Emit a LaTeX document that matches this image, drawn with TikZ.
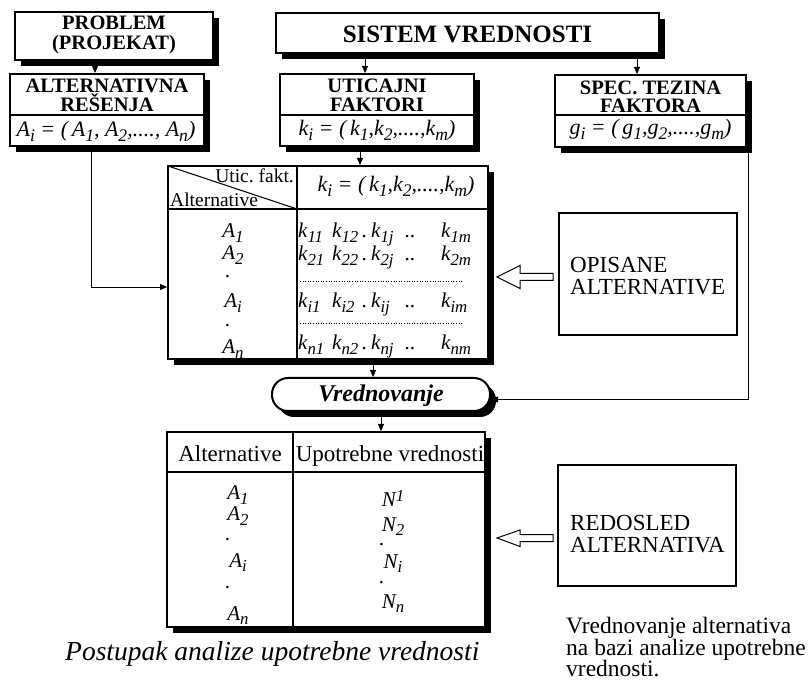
\documentclass[tikz,border=0pt]{standalone}
\usepackage{fontspec}
\setmainfont{Liberation Serif}
\usetikzlibrary{arrows.meta,shadows}
\frenchspacing

% lowered and raised small indices for italic formulas
\newcommand\lo[1]{\raisebox{-0.45ex}{\scalebox{0.8}{#1}}}
\newcommand\hi[1]{\raisebox{0.6ex}{\scalebox{0.8}{#1}}}
% one row of the factor matrix
\newcommand\krow[4]{\makebox[34pt][l]{#1}\makebox[30pt][l]{#2}\makebox[9pt][l]{.}\makebox[34pt][l]{#3}\makebox[36pt][l]{..}#4}

\begin{document}
\begin{tikzpicture}[x=1pt,y=-1pt,
  box/.style={draw, line width=2pt, fill=white, inner sep=0pt,
    drop shadow={shadow xshift=6pt,shadow yshift=-6pt,fill=black,opacity=1}},
  plainbox/.style={draw, line width=1.6pt, inner sep=0pt},
  conn/.style={line width=0.8pt, -{Triangle[length=7pt,width=6pt]}},
  rule/.style={line width=1.5pt},
  hd/.style={font=\fontsize{20.5}{20}\selectfont\bfseries, inner sep=0pt, anchor=base},
  fm/.style={font=\fontsize{22}{22}\selectfont\itshape, inner sep=0pt, anchor=base},
  cell/.style={font=\fontsize{19.5}{19}\selectfont, inner sep=0pt},
  bcell/.style={font=\fontsize{23}{23}\selectfont, inner sep=0pt, anchor=base},
  ent/.style={font=\fontsize{21}{21}\selectfont\itshape, inner sep=0pt, anchor=base},
  lbl/.style={font=\fontsize{23}{23}\selectfont, inner sep=0pt, anchor=base west},
  captext/.style={font=\fontsize{23.5}{23}\selectfont, inner sep=0pt, anchor=base west},
  dots/.style={line width=1pt, dash pattern=on 1pt off 1.6pt},
  hollow/.style={line width=1pt, fill=white}
]
\useasboundingbox (0,0) rectangle (809,684);

% ---------- top row ----------
\node[box, minimum width=198pt, minimum height=48pt] (prob) at (114,36) {};
\node[hd] (probA) at (114,30) {PROBLEM};
\node[hd] (probB) at (114,50) {(PROJEKAT)};

\node[box, minimum width=383pt, minimum height=40pt] (sys) at (467.5,33) {};
\node[font=\fontsize{25}{25}\selectfont\bfseries, inner sep=0pt, anchor=base] (sysT) at (467.5,43) {SISTEM VREDNOSTI};

% ---------- second row ----------
\node[box, minimum width=194pt, minimum height=72pt] (alt) at (107,110) {};
\draw[rule] (10,115) -- (204,115);
\node[hd] (altA) at (107,93) {ALTERNATIVNA};
\node[hd] (altB) at (107,112) {REŠENJA};
\node[fm] (altF) at (106,137) {A\lo{i} = (\,A\lo{1}, A\lo{2},...., A\lo{n})};

\node[box, minimum width=194pt, minimum height=72pt] (utic) at (377,110) {};
\draw[rule] (280,115) -- (474,115);
\node[hd] (uticA) at (377,93) {UTICAJNI};
\node[hd] (uticB) at (377,112) {FAKTORI};
\node[fm] (uticF) at (377,136) {k\lo{i} = (\,k\lo{1},k\lo{2},....,k\lo{m})};

\node[box, minimum width=191pt, minimum height=72pt] (spec) at (650.5,111) {};
\draw[rule] (555,115) -- (746,115);
\node[hd] (specA) at (650.5,95) {SPEC. TEZINA};
\node[hd] (specB) at (650.5,113) {FAKTORA};
\node[fm] (specF) at (650.5,135) {g\lo{i} = (\,g\lo{1},g\lo{2},....,g\lo{m})};

% ---------- matrix of described alternatives ----------
\node[box, minimum width=320pt, minimum height=193pt] (tab) at (328,262.5) {};
\draw[rule] (297,166) -- (297,359);
\draw[rule] (168,209) -- (488,209);
\draw[line width=1pt] (168,166) -- (297,209);
\node[cell, anchor=base east] (hdU) at (294,183) {Utic. fakt.};
\node[cell, anchor=base west] (hdA) at (170,207) {Alternative};
\node[fm] (hdK) at (396,192) {k\lo{i} = (\,k\lo{1},k\lo{2},....,k\lo{m})};

\node[ent] (ta1) at (233,238) {A\lo{1}};
\node[ent] (ta2) at (233,260) {A\lo{2}};
\node[ent] (tad1) at (228,278) {.};
\node[ent] (tai) at (233,308) {A\lo{i}};
\node[ent] (tad2) at (228,327) {.};
\node[ent] (tan) at (233,354) {A\lo{n}};

\node[ent, anchor=base west] (k1) at (298,238) {\krow{k\lo{11}}{k\lo{12}}{k\lo{1j}}{k\lo{1m}}};
\node[ent, anchor=base west] (k2) at (298,261) {\krow{k\lo{21}}{k\lo{22}}{k\lo{2j}}{k\lo{2m}}};
\draw[dots] (300,282) -- (462,282);
\node[ent, anchor=base west] (ki) at (298,308) {\krow{k\lo{i1}}{k\lo{i2}}{k\lo{ij}}{k\lo{im}}};
\draw[dots] (300,324) -- (462,324);
\node[ent, anchor=base west] (kn) at (298,350) {\krow{k\lo{n1}}{k\lo{n2}}{k\lo{nj}}{k\lo{nm}}};

% ---------- evaluation step ----------
\node[box, minimum width=218pt, minimum height=33pt, rounded corners=16pt] (vred) at (381,394.5) {};
\node[font=\fontsize{24}{24}\selectfont\bfseries\itshape, inner sep=0pt, anchor=base] (vredT) at (381,402) {Vrednovanje};

% ---------- table of use values ----------
\node[box, minimum width=318pt, minimum height=195pt] (bot) at (326,529.5) {};
\draw[rule] (293,432) -- (293,627);
\draw[rule] (167,472) -- (485,472);
\node[bcell] (bhA) at (230,462) {Alternative};
\node[bcell] (bhU) at (390,462) {Upotrebne vrednosti};

\node[ent] (ba1) at (238,500) {A\lo{1}};
\node[ent] (ba2) at (238,521) {A\lo{2}};
\node[ent] (bad1) at (228,540) {.};
\node[ent] (bai) at (238,567) {A\lo{i}};
\node[ent] (bad2) at (228,588) {.};
\node[ent] (ban) at (238,620) {A\lo{n}};

\node[ent] (bn1) at (393,507) {N\hi{1}};
\node[ent] (bn2) at (393,531) {N\lo{2}};
\node[ent] (bnd1) at (382,545) {.};
\node[ent] (bni) at (393,568) {N\lo{i}};
\node[ent] (bnd2) at (382,583) {.};
\node[ent] (bnn) at (393,608) {N\lo{n}};

% ---------- side boxes ----------
\node[plainbox, minimum width=178pt, minimum height=122pt] (opis) at (648,274) {};
\node[lbl] (opisA) at (570,273) {OPISANE};
\node[lbl] (opisB) at (570,295) {ALTERNATIVE};

\node[plainbox, minimum width=178pt, minimum height=121pt] (redo) at (647,525.5) {};
\node[lbl] (redoA) at (570,530) {REDOSLED};
\node[lbl] (redoB) at (570,552) {ALTERNATIVA};

% hollow block arrows
\draw[hollow] (497,277) -- (520,265.5) -- (520,273.5) -- (553,273.5) -- (553,280.5)
  -- (520,280.5) -- (520,288.5) -- cycle;
\draw[hollow] (497,538) -- (520,530) -- (520,534.5) -- (553,534.5) -- (553,541.5)
  -- (520,541.5) -- (520,546.5) -- cycle;

% ---------- captions ----------
\node[captext] (capR1) at (566,633) {Vrednovanje alternativa};
\node[captext] (capR2) at (566,655) {na bazi analize upotrebne};
\node[captext] (capR3) at (566,676) {vrednosti.};
\node[font=\fontsize{27.5}{27.5}\selectfont\itshape, inner sep=0pt, anchor=base west] (capL) at (65,660) {Postupak analize upotrebne vrednosti};

% ---------- connectors ----------
\draw[conn] ([xshift=-19pt]prob.south) -- ([xshift=-12pt]alt.north);
\draw[conn] ([xshift=-102.5pt]sys.south) -- ([xshift=-12pt]utic.north);
\draw[conn] ([xshift=169.5pt]sys.south) -- ([xshift=-13.5pt]spec.north);
\draw[conn] ([xshift=-17pt]utic.south) -- ([xshift=32pt]tab.north);
\draw[conn] ([xshift=-16pt]alt.south) |- ([yshift=-24.5pt]tab.west);
\draw[conn] ([xshift=45pt]tab.south) -- ([xshift=-8pt]vred.north);
\draw[conn] ([xshift=1.5pt]spec.south east) |- ([yshift=-5pt]vred.east);
\draw[conn] (vred.south) -- ([xshift=55pt]bot.north);
\end{tikzpicture}
\end{document}
